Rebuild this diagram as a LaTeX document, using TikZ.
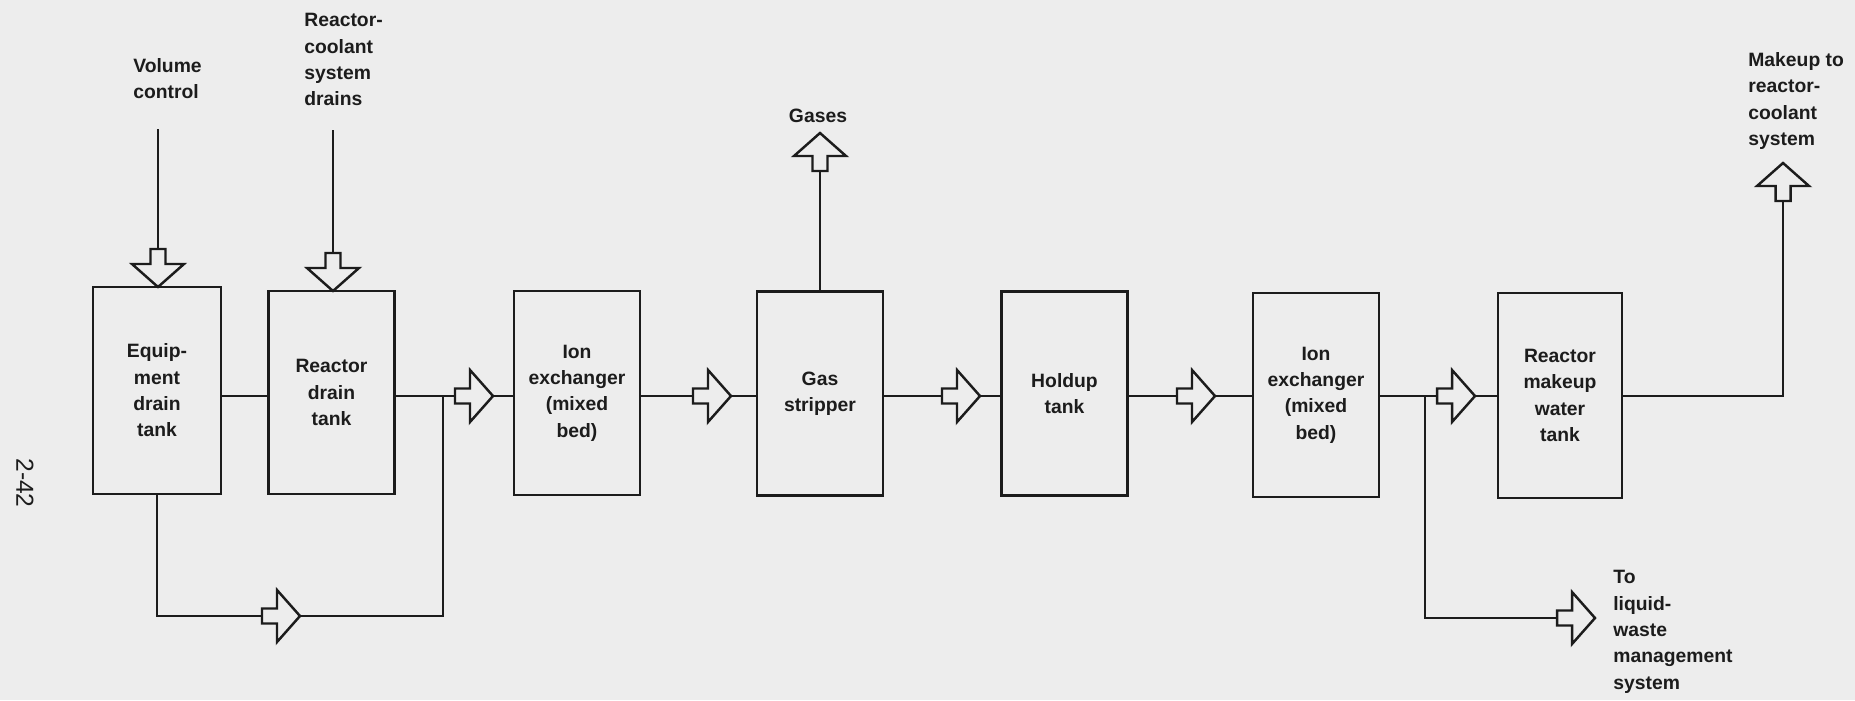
\documentclass[tikz,border=0pt]{standalone}
\usepackage{fontspec}
\setmainfont{Liberation Sans}
\usetikzlibrary{calc}
\definecolor{bg}{RGB}{237,237,237}
\definecolor{ink}{RGB}{28,28,28}
\newcommand\flowarrow[2]{\draw[blk, shift={(#1)}, rotate=#2] (0,0) -- (-23,-26) -- (-23,-7.5) -- (-38,-7.5) -- (-38,7.5) -- (-23,7.5) -- (-23,26) -- cycle;}
\begin{document}
\begin{tikzpicture}[x=0.02cm,y=-0.02cm,
  tank/.style={draw=ink, line width=1.4pt, minimum width=2.52cm, minimum height=4.08cm, inner sep=0pt, align=center, text=ink, font=\bfseries\fontsize{11}{15}\selectfont},
  lbl/.style={inner sep=0pt, align=left, text=ink, font=\bfseries\fontsize{11}{15}\selectfont},
  pipe/.style={draw=ink, line width=1.4pt},
  blk/.style={draw=ink, fill=bg, line width=1.4pt, line join=miter}]
\fill[bg] (0,0) rectangle (1855,700);
\useasboundingbox (0,0) rectangle (1855,700);

% tanks
\node[tank, minimum width=2.56cm, minimum height=4.14cm] (ed) at (157,390.5) {Equip-\\ment\\drain\\tank};
\node[tank, minimum height=4.06cm] (rd) at (331.5,392.5) {Reactor\\drain\\tank};
\node[tank] (ix1) at (577,393) {Ion\\exchanger\\(mixed\\bed)};
\node[tank] (gs) at (820,393.5) {Gas\\stripper};
\node[tank] (hu) at (1064.5,393.5) {Holdup\\tank};
\node[tank] (ix2) at (1316,395) {Ion\\exchanger\\(mixed\\bed)};
\node[tank, minimum width=2.48cm, minimum height=4.1cm] (rm) at (1560,395.5) {Reactor\\makeup\\water\\tank};

% labels
\node[lbl, anchor=north west] (vc) at (133,58) {Volume\\control};
\node[lbl, anchor=north west] (rc) at (304,13) {Reactor-\\coolant\\system\\drains};
\node[lbl, anchor=south] (gas) at (818,123) {Gases};
\node[lbl, anchor=north west] (mk) at (1748,52) {Makeup to\\reactor-\\coolant\\system};
\node[lbl, anchor=north west] (lw) at (1613,570) {To\\liquid-\\waste\\management\\system};
\node[inner sep=0pt, text=ink, rotate=-90, font=\fontsize{14}{16}\selectfont] (pg) at (25,483) {2-42};

% free ends and junctions
\coordinate (vcs) at (158,129);
\coordinate (rcs) at (333,130);
\coordinate (j1) at (443,396);
\coordinate (jb) at (443,616);
\coordinate (j2) at (1425,396);
\coordinate (jw) at (1425,618);
\coordinate (lwt) at (1595,618);
\coordinate (mkc) at (1783,396);
\coordinate (mkt) at (1783,163);
\coordinate (gst) at (820,133);

% pipes
\draw[pipe] (vcs) -- (ed.north -| vcs);
\draw[pipe] (rcs) -- (rd.north -| rcs);
\draw[pipe] (rd.west |- j1) -- (ed.east |- j1);
\draw[pipe] (rd.east |- j1) -- (j1) -- (ix1.west |- j1);
\draw[pipe] (ed.south) |- (jb) -- (j1);
\draw[pipe] (ix1.east |- j1) -- (gs.west |- j1);
\draw[pipe] (gs.north) -- (gst);
\draw[pipe] (gs.east |- j1) -- (hu.west |- j1);
\draw[pipe] (hu.east |- j1) -- (ix2.west |- j1);
\draw[pipe] (ix2.east |- j2) -- (j2) -- (rm.west |- j2);
\draw[pipe] (j2) -- (jw) -- (lwt);
\draw[pipe] (rm.east |- mkc) -- (mkc) -- (mkt);

% block arrows
\coordinate (a0) at (158,287);
\coordinate (a00) at (333,291);
\coordinate (a1) at (493,396);
\coordinate (ab) at (300,616);
\coordinate (a2) at (731,396);
\coordinate (a3) at (980,396);
\coordinate (a4) at (1215,396);
\coordinate (a5) at (1475,396);
\flowarrow{a0}{-90}
\flowarrow{a00}{-90}
\flowarrow{a1}{0}
\flowarrow{ab}{0}
\flowarrow{a2}{0}
\flowarrow{a3}{0}
\flowarrow{a4}{0}
\flowarrow{a5}{0}
\flowarrow{lwt}{0}
\flowarrow{gst}{90}
\flowarrow{mkt}{90}
\end{tikzpicture}
\end{document}
